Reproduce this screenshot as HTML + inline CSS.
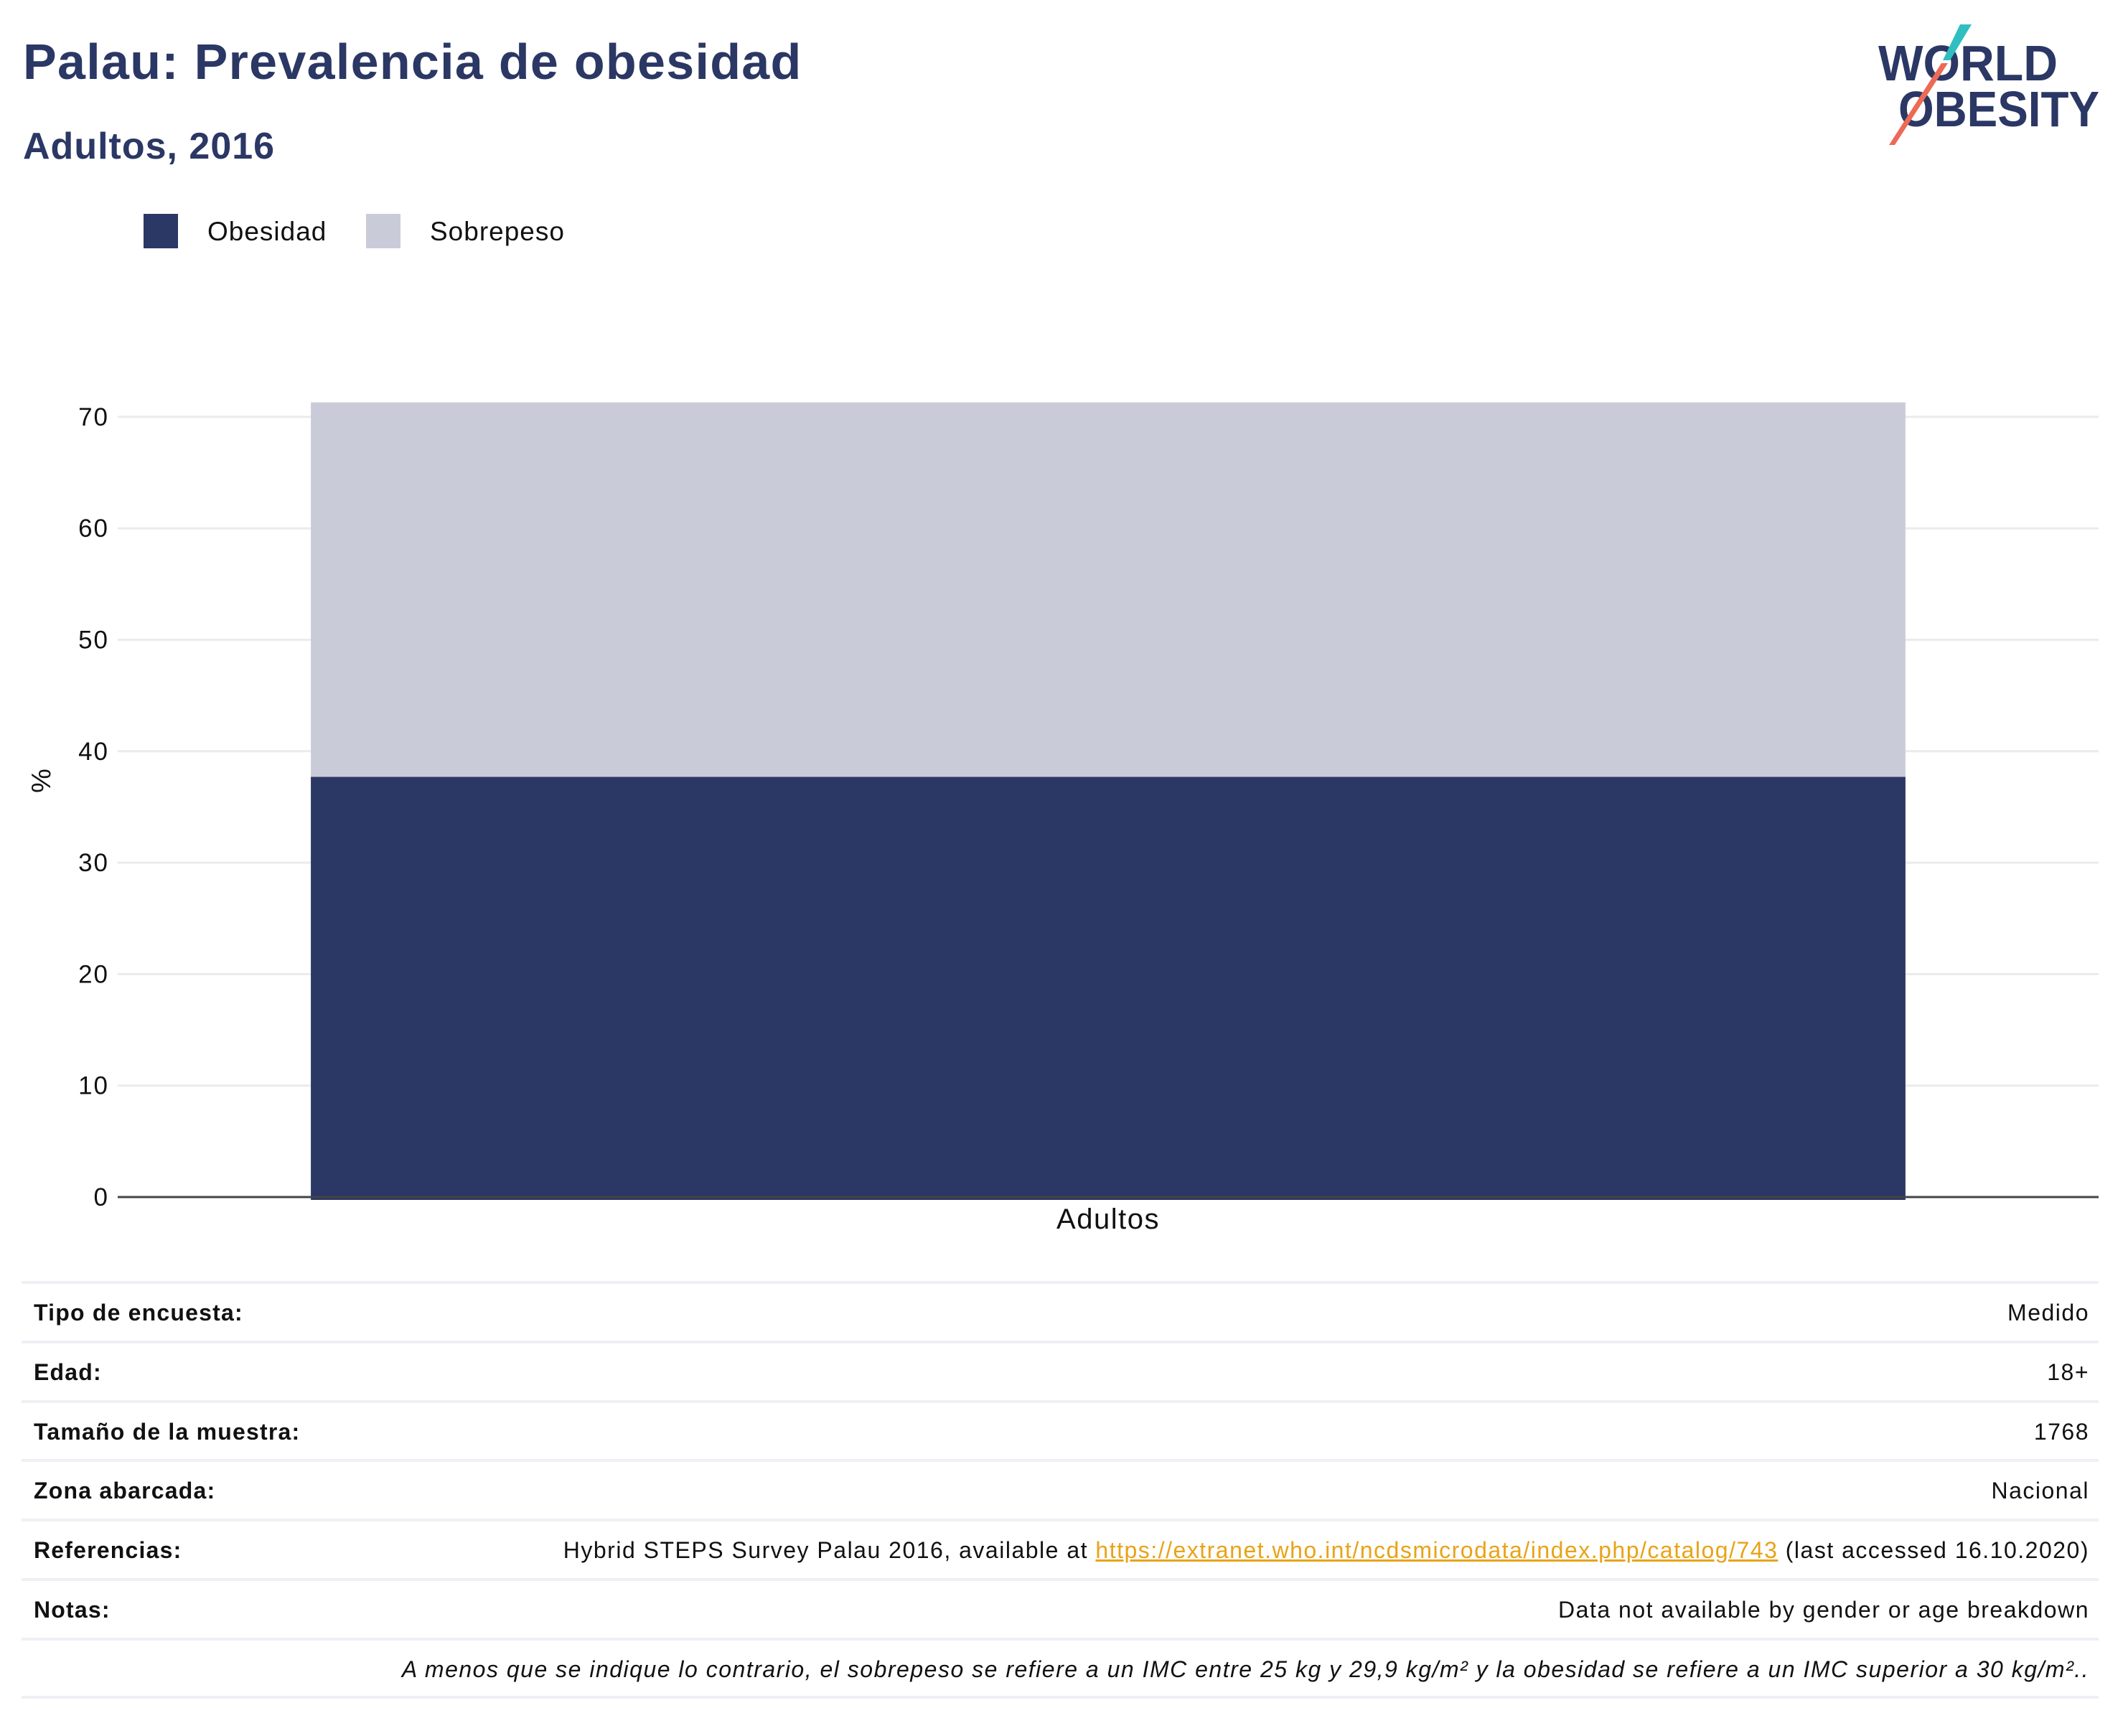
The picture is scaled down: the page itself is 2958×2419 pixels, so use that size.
<!DOCTYPE html>
<html><head><meta charset="utf-8">
<style>
html,body{margin:0;padding:0;background:#fff;}
body{width:2958px;height:2419px;position:relative;overflow:hidden;font-family:"Liberation Sans",sans-serif;}
.abs{position:absolute;}
.title{left:32px;top:46px;font-size:70px;font-weight:bold;color:#2b3764;white-space:nowrap;letter-spacing:1.3px;}
.sub{left:32px;top:174px;font-size:52px;font-weight:bold;color:#2b3764;white-space:nowrap;letter-spacing:1px;}
.row{position:absolute;left:30px;width:2894px;height:83px;border-top:4px solid #eef0f5;box-sizing:border-box;font-size:32px;color:#111;}
.row .k{position:absolute;left:17px;top:0;line-height:81px;font-weight:bold;letter-spacing:1.2px;}
.row .v{position:absolute;right:13px;top:0;line-height:81px;white-space:nowrap;letter-spacing:1.5px;}
a{color:#e8a317;text-decoration:underline;}
</style></head><body>
<div class="abs title">Palau: Prevalencia de obesidad</div>
<div class="abs sub">Adultos, 2016</div>

<svg class="abs" style="left:2600px;top:20px" width="358" height="200">
  <text x="17" y="92" font-family="Liberation Sans" font-weight="bold" font-size="70" fill="#2b3764" textLength="250" lengthAdjust="spacingAndGlyphs">WORLD</text>
  <text x="45" y="156" font-family="Liberation Sans" font-weight="bold" font-size="70" fill="#2b3764" textLength="280" lengthAdjust="spacingAndGlyphs">OBESITY</text>
  <polygon points="131,14 147,14 117,64 107,64" fill="#2fbfc1"/>
  <polygon points="105,68 114,68 40,182 32,182" fill="#ec6a56"/>
</svg>

<svg class="abs" style="left:0;top:0" width="2958" height="1780" id="chart">
  <g id="legend"></g>
  <g id="grid"></g>
  <g id="bars"></g>
  <g id="axes"></g>
</svg>

<div class="row" style="top:1785px"><span class="k">Tipo de encuesta:</span><span class="v">Medido</span></div>
<div class="row" style="top:1868px"><span class="k">Edad:</span><span class="v">18+</span></div>
<div class="row" style="top:1951px"><span class="k">Tamaño de la muestra:</span><span class="v">1768</span></div>
<div class="row" style="top:2033px"><span class="k">Zona abarcada:</span><span class="v">Nacional</span></div>
<div class="row" style="top:2116px"><span class="k">Referencias:</span><span class="v">Hybrid STEPS Survey Palau 2016, available at <a>https://extranet.who.int/ncdsmicrodata/index.php/catalog/743</a> (last accessed 16.10.2020)</span></div>
<div class="row" style="top:2199px"><span class="k">Notas:</span><span class="v">Data not available by gender or age breakdown</span></div>
<div class="row" style="top:2282px;border-bottom:4px solid #eef0f5;height:85px"><span class="v" style="font-style:italic">A menos que se indique lo contrario, el sobrepeso se refiere a un IMC entre 25 kg y 29,9 kg/m² y la obesidad se refiere a un IMC superior a 30 kg/m²..</span></div>

<script>
const categories = ["Adultos"];
const seriesNames = ["Obesidad", "Sobrepeso"];
const obesidad = [37.7];
const sobrepeso = [33.6];
const yTicks = [0, 10, 20, 30, 40, 50, 60, 70];
const colors = ["#2b3764", "#c9ccd8"];

const NS = "http://www.w3.org/2000/svg";
const plotL = 164, plotR = 2924, y0px = 1668, pxPer = 15.53;
const yScale = v => y0px - v * pxPer;
const band = (plotR - plotL) / categories.length;
const xCenter = i => plotL + band * (i + 0.5);
const barW = band * 0.805;

function mk(tag, attrs, parent) {
  const e = document.createElementNS(NS, tag);
  for (const k in attrs) e.setAttribute(k, attrs[k]);
  parent.appendChild(e);
  return e;
}
const grid = document.getElementById('grid');
const axes = document.getElementById('axes');
const barsG = document.getElementById('bars');
const legend = document.getElementById('legend');

yTicks.forEach(t => {
  if (t !== 0) {
    const l = mk('line', {x1: plotL, x2: plotR, y1: yScale(t), y2: yScale(t), stroke: '#ebebeb', 'stroke-width': 3}, grid);
    
    
  }
  const tx = mk('text', {x: 152, y: yScale(t) + 12, 'text-anchor': 'end', 'font-size': 35, 'letter-spacing': 2, fill: '#111', 'font-family': 'Liberation Sans'}, axes);
  tx.textContent = t;
  
  
});

categories.forEach((c, i) => {
  const x = xCenter(i) - barW / 2;
  const r1 = mk('rect', {x: x, y: yScale(obesidad[i]), width: barW, height: yScale(0) - yScale(obesidad[i]) + 4, fill: colors[0]}, barsG);
  
  
  const top = obesidad[i] + sobrepeso[i];
  const r2 = mk('rect', {x: x, y: yScale(top), width: barW, height: yScale(obesidad[i]) - yScale(top), fill: colors[1]}, barsG);
  
  
  const lbl = mk('text', {x: xCenter(i), y: 1712, 'text-anchor': 'middle', 'font-size': 40, 'letter-spacing': 1.5, fill: '#111', 'font-family': 'Liberation Sans'}, axes);
  lbl.textContent = c;
  
  
});

const ax = mk('line', {x1: plotL, x2: plotR, y1: y0px, y2: y0px, stroke: '#444', 'stroke-width': 3}, axes);



const yt = mk('text', {x: 70, y: 1088, 'text-anchor': 'middle', 'font-size': 38, fill: '#111', transform: 'rotate(-90 70 1088)', 'font-family': 'Liberation Sans'}, axes);
yt.textContent = '%';



const legX = [200, 510];
seriesNames.forEach((n, i) => {
  const r = mk('rect', {x: legX[i], y: 298, width: 48, height: 48, fill: colors[i]}, legend);
  
  
  const t = mk('text', {x: legX[i] + 89, y: 335, 'font-size': 37, 'letter-spacing': 1, fill: '#111', 'font-family': 'Liberation Sans'}, legend);
  t.textContent = n;
  
  
});
</script>
</body></html>
